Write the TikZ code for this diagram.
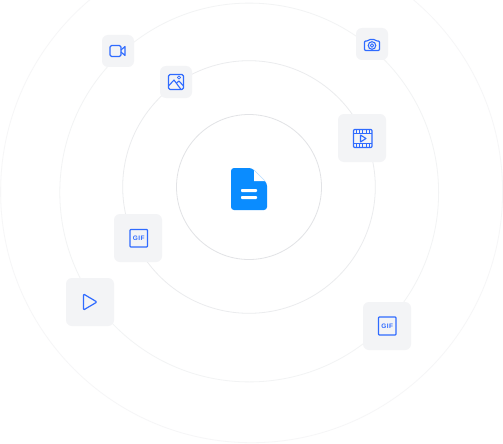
\documentclass[tikz,border=0pt]{standalone}
\usepackage{fontspec}
\setsansfont{Liberation Sans}
\definecolor{ringA}{HTML}{E2E3E6}
\definecolor{ringB}{HTML}{EBECEE}
\definecolor{ringC}{HTML}{F2F3F4}
\definecolor{ringD}{HTML}{F6F6F7}
\definecolor{tile}{HTML}{F3F4F6}
\definecolor{ico}{HTML}{2F6BFF}
\definecolor{doc}{HTML}{0A8CFF}
\tikzset{
  x=1pt,y=-1pt,
  ring/.style={line width=0.8pt,fill=none},
  tilebox/.style={fill=tile,rounded corners=6pt,minimum size=#1,inner sep=0pt,draw=none},
  icon/.style={draw=ico,line width=1.1pt,line join=round,fill=none},
  giftext/.style={font=\sffamily\bfseries\fontsize{6.5}{7}\selectfont,text=ico,inner sep=0pt},
}
\begin{document}
\begin{tikzpicture}
\useasboundingbox (0,0) rectangle (503,444);
\fill[white] (0,0) rectangle (503,444);
\coordinate (c) at (249,187);
\coordinate (d) at (249.2,192.5);
\coordinate (e) at (251.6,191.7);
\draw[ring,ringA] (c) circle[radius=72.5];
\draw[ring,ringB] (c) circle[radius=126.3];
\draw[ring,ringC] (d) circle[radius=189.4];
\draw[ring,ringD] (e) circle[radius=251];
% tiles
\node[tilebox=32pt] (video) at (118,51) {};
\node[tilebox=32pt] (image) at (176,82) {};
\node[tilebox=32pt] (camera) at (372,44) {};
\node[tilebox=48pt] (film) at (362,138) {};
\node[tilebox=48pt] (gifA) at (138,238) {};
\node[tilebox=48pt] (play) at (90,302) {};
\node[tilebox=48pt] (gifB) at (387,326) {};
% document
\fill[doc,rounded corners=3pt] (231,168) -- (252,168) -- (267,183) -- (267,210) -- (231,210) -- cycle;
\fill[white] (254,170.2) -- (265.3,181) -- (254,181) -- cycle;
\draw[doc!25,line width=0.5pt] (253,169) -- (266,182);
\fill[white,rounded corners=0.8pt] (241,189) rectangle (257,192);
\fill[white,rounded corners=0.8pt] (241,196) rectangle (257,199);
% video icon
\draw[icon,rounded corners=1.5pt] (110,45.5) rectangle (121,56.5);
\draw[icon] (121,50) -- (125,46.5) -- (125,55.5) -- (121,52);
% image icon
\draw[icon,rounded corners=1.5pt] (168.5,74.5) rectangle (183.5,89.5);
\draw[icon] (168.5,86) -- (174,80) -- (181,89.5);
\draw[icon] (176.5,83) -- (179,81) -- (183.5,86);
\draw[icon,line width=0.8pt] (179,77.5) circle[radius=1.6];
% camera icon
\draw[icon,rounded corners=1pt] (364.5,41) -- (368,41) -- (369,39.5) -- (375,39.5) -- (376,41) -- (379.5,41) -- (379.5,50.5) -- (364.5,50.5) -- cycle;
\draw[icon] (372,45.5) circle[radius=3.8];
\draw[icon,line width=0.8pt] (372,45.5) circle[radius=1.8];
% film icon
\draw[icon,rounded corners=1pt] (353.5,129.5) rectangle (372,147.5);
\draw[icon] (353.5,133.5) -- (372,133.5) (353.5,143.5) -- (372,143.5);
\foreach \i in {356.5,359.5,362.7,366,369}{
  \draw[icon,line width=1pt] (\i,129.5) -- (\i,133.5) (\i,143.5) -- (\i,147.5);
}
\draw[icon] (360.5,135) -- (366,138.5) -- (360.5,142) -- cycle;
% gif icons
\draw[icon,line width=1.2pt,rounded corners=0.8pt] (130,229.5) rectangle (147.5,247);
\node[giftext] (gifAtext) at (138.7,238.3) {G\kern0.4pt I\kern0.4pt F};
\draw[icon,line width=1.2pt,rounded corners=0.8pt] (378.5,317) rectangle (396,335);
\node[giftext] (gifBtext) at (387.2,326) {G\kern0.4pt I\kern0.4pt F};
% play icon
\draw[icon,line width=1.2pt,rounded corners=1pt] (83.5,294) -- (97,302) -- (83.5,310) -- cycle;
\end{tikzpicture}
\end{document}
